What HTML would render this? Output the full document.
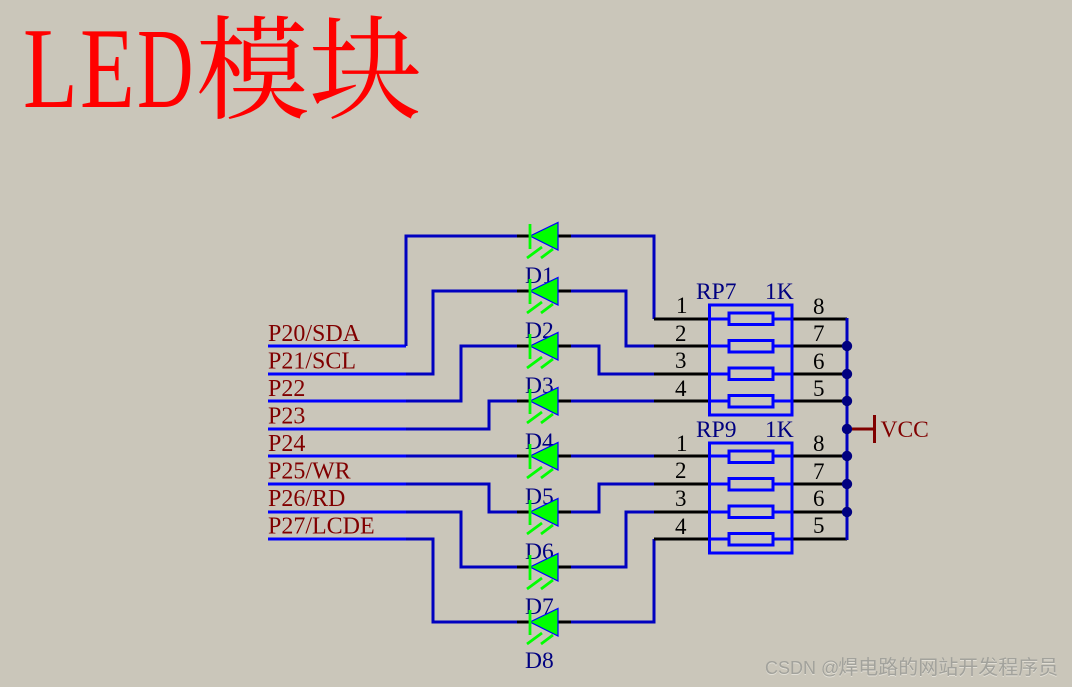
<!DOCTYPE html>
<html>
<head>
<meta charset="utf-8">
<style>
html,body{margin:0;padding:0;background:#cac6ba;}
#c{position:relative;width:1072px;height:687px;overflow:hidden;background:#cac6ba;}
svg{position:absolute;left:0;top:0;}
svg text{font-family:"Liberation Serif","Noto Serif CJK SC",serif;}
.l{font-size:24px;fill:#800000;}
.d{font-size:23.5px;fill:#000080;}
.n{font-size:23px;fill:#000;}
.w{fill:none;stroke:#0000c0;stroke-width:3;}
.b{fill:none;stroke:#000;stroke-width:3;}
.f{fill:none;stroke:#0000ff;stroke-width:3;}
.g{fill:none;stroke:#00ff00;stroke-width:2.8;}
.t{fill:#00ff00;stroke:#0000ff;stroke-width:1.2;}
#wm{position:absolute;left:765px;top:656px;font:18px "Liberation Sans","Noto Sans CJK SC",sans-serif;color:#a2a29c;text-shadow:0 1px 0 #e2dfd6;white-space:nowrap;line-height:24px;}
#wm span{font-size:20px;margin-left:-1px;}
</style>
</head>
<body>
<div id="c">
<svg width="1072" height="687" viewBox="0 0 1072 687">
<!-- title -->
<g fill="#ff0000">
<text transform="translate(23,107) scale(.78,1)" font-size="115">L</text>
<text transform="translate(80,107) scale(.78,1)" font-size="115">E</text>
<text transform="translate(137,107) scale(.68,1)" font-size="115">D</text>
<text x="196" y="110" font-size="113">模块</text>
</g>

<!-- bright wire portions -->
<g class="f">
<path d="M268 346H406"/><path d="M268 374H406"/><path d="M268 401H406"/><path d="M268 429H406"/>
<path d="M268 456H406"/><path d="M268 484H406"/><path d="M268 512H406"/><path d="M268 539H406"/>
</g>
<!-- left wires -->
<g class="w">
<path d="M406 346V236H517"/>
<path d="M406 374H433V291H517"/>
<path d="M406 401H461V346H517"/>
<path d="M406 429H489V401H517"/>
<path d="M406 456H517"/>
<path d="M406 484H489V512H517"/>
<path d="M406 512H461V567H517"/>
<path d="M406 539H433V622H517"/>
<!-- right wires -->
<path d="M571 236H654V319"/>
<path d="M571 291H626V346H654"/>
<path d="M571 346H599V374H654"/>
<path d="M571 401H654"/>
<path d="M571 456H654"/>
<path d="M571 512H599V484H654"/>
<path d="M571 567H626V512H654"/>
<path d="M571 622H654V539"/>
</g>

<!-- black stubs at LEDs -->
<g class="b">
<path d="M517 236H530M558 236H571"/>
<path d="M517 291H530M558 291H571"/>
<path d="M517 346H530M558 346H571"/>
<path d="M517 401H530M558 401H571"/>
<path d="M517 456H530M558 456H571"/>
<path d="M517 512H530M558 512H571"/>
<path d="M517 567H530M558 567H571"/>
<path d="M517 622H530M558 622H571"/>
<!-- resistor pack pins -->
<path d="M654 319H709M792 319H847"/>
<path d="M654 346H709M792 346H847"/>
<path d="M654 374H709M792 374H847"/>
<path d="M654 401H709M792 401H847"/>
<path d="M654 456H709M792 456H847"/>
<path d="M654 484H709M792 484H847"/>
<path d="M654 512H709M792 512H847"/>
<path d="M654 539H709M792 539H847"/>
</g>

<!-- D labels -->
<g class="d">
<text x="525" y="283">D1</text>
<text x="525" y="338">D2</text>
<text x="525" y="393">D3</text>
<text x="525" y="449">D4</text>
<text x="525" y="504">D5</text>
<text x="525" y="559">D6</text>
<text x="525" y="614">D7</text>
<text x="525" y="668">D8</text>
</g>

<!-- LEDs -->
<g>
<g transform="translate(0,0)"><polygon class="t" points="530,236 558,222.5 558,250"/><path class="g" d="M530 224V249M527 258L542 247M541 258L553 249"/></g>
<g transform="translate(0,55)"><polygon class="t" points="530,236 558,222.5 558,250"/><path class="g" d="M530 224V249M527 258L542 247M541 258L553 249"/></g>
<g transform="translate(0,110)"><polygon class="t" points="530,236 558,222.5 558,250"/><path class="g" d="M530 224V249M527 258L542 247M541 258L553 249"/></g>
<g transform="translate(0,165)"><polygon class="t" points="530,236 558,222.5 558,250"/><path class="g" d="M530 224V249M527 258L542 247M541 258L553 249"/></g>
<g transform="translate(0,220)"><polygon class="t" points="530,236 558,222.5 558,250"/><path class="g" d="M530 224V249M527 258L542 247M541 258L553 249"/></g>
<g transform="translate(0,276)"><polygon class="t" points="530,236 558,222.5 558,250"/><path class="g" d="M530 224V249M527 258L542 247M541 258L553 249"/></g>
<g transform="translate(0,331)"><polygon class="t" points="530,236 558,222.5 558,250"/><path class="g" d="M530 224V249M527 258L542 247M541 258L553 249"/></g>
<g transform="translate(0,386)"><polygon class="t" points="530,236 558,222.5 558,250"/><path class="g" d="M530 224V249M527 258L542 247M541 258L553 249"/></g>
</g>

<!-- signal labels -->
<g class="l">
<text x="268" y="341">P20/SDA</text>
<text x="268" y="368.5">P21/SCL</text>
<text x="268" y="396">P22</text>
<text x="268" y="423.5">P23</text>
<text x="268" y="451">P24</text>
<text x="268" y="478.5">P25/WR</text>
<text x="268" y="506">P26/RD</text>
<text x="268" y="533.5">P27/LCDE</text>
</g>

<!-- resistor packs -->
<g class="f">
<rect x="709.5" y="305" width="82.5" height="110"/>
<rect x="729" y="313" width="44" height="11.5"/>
<rect x="729" y="340.5" width="44" height="11.5"/>
<rect x="729" y="368" width="44" height="11.5"/>
<rect x="729" y="395.5" width="44" height="11.5"/>
<path d="M709 319H729M773 319H792M709 346H729M773 346H792M709 374H729M773 374H792M709 401H729M773 401H792"/>
<rect x="709.5" y="443" width="82.5" height="110"/>
<rect x="729" y="451" width="44" height="11.5"/>
<rect x="729" y="478.5" width="44" height="11.5"/>
<rect x="729" y="506" width="44" height="11.5"/>
<rect x="729" y="533.5" width="44" height="11.5"/>
<path d="M709 456H729M773 456H792M709 484H729M773 484H792M709 512H729M773 512H792M709 539H729M773 539H792"/>
</g>
<g class="d">
<text x="696" y="299">RP7</text>
<text x="765" y="299">1K</text>
<text x="696" y="437">RP9</text>
<text x="765" y="437">1K</text>
</g>
<g class="n">
<text x="676" y="313">1</text>
<text x="675" y="341">2</text>
<text x="675" y="368">3</text>
<text x="675" y="396">4</text>
<text x="813" y="314">8</text>
<text x="813" y="341">7</text>
<text x="813" y="369">6</text>
<text x="813" y="396">5</text>
<text x="676" y="451">1</text>
<text x="675" y="478">2</text>
<text x="675" y="506">3</text>
<text x="675" y="534">4</text>
<text x="813" y="451">8</text>
<text x="813" y="479">7</text>
<text x="813" y="506">6</text>
<text x="813" y="533">5</text>
</g>

<!-- VCC rail -->
<path d="M847 318V540" fill="none" stroke="#0000c0" stroke-width="3"/>
<g fill="#000080">
<circle cx="847" cy="346" r="5.2"/>
<circle cx="847" cy="374" r="5.2"/>
<circle cx="847" cy="401" r="5.2"/>
<circle cx="847" cy="429" r="5.2"/>
<circle cx="847" cy="456" r="5.2"/>
<circle cx="847" cy="484" r="5.2"/>
<circle cx="847" cy="512" r="5.2"/>
</g>
<path d="M852 429H874M874.5 415V443" fill="none" stroke="#800000" stroke-width="3"/>
<text x="880.5" y="437" font-size="23.5" fill="#800000">VCC</text>
</svg>
<div id="wm">CSDN @<span>焊电路的网站开发程序员</span></div>
</div>
</body>
</html>
